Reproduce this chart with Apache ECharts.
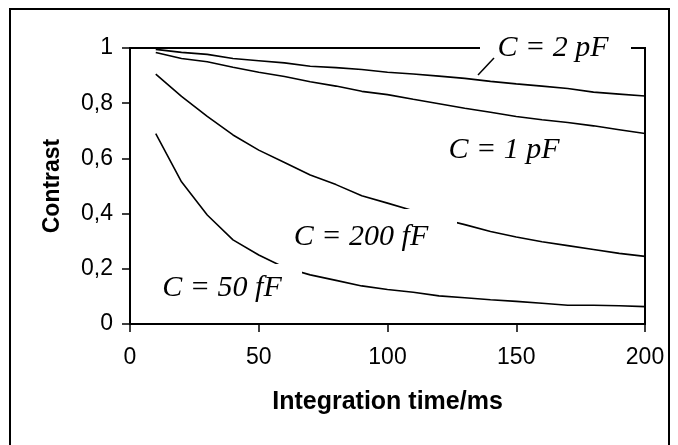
<!DOCTYPE html>
<html>
<head>
<meta charset="utf-8">
<script src="https://cdn.jsdelivr.net/npm/echarts@6/dist/echarts.min.js"></script>
<style>
html,body{margin:0;padding:0;background:#fff;}
#chart{width:678px;height:445px;}
</style>
</head>
<body>
<div id="chart"></div>
<script>
var times = [10,20,30,40,50,60,70,80,90,100,110,120,130,140,150,160,170,180,190,200];
var c2pF  = [0.995,0.984,0.977,0.962,0.954,0.946,0.934,0.929,0.922,0.912,0.906,0.898,0.890,0.879,0.870,0.862,0.853,0.840,0.833,0.826];
var c1pF  = [0.984,0.962,0.950,0.930,0.912,0.897,0.878,0.862,0.843,0.831,0.814,0.798,0.782,0.767,0.752,0.740,0.730,0.718,0.704,0.690];
var c200fF= [0.905,0.825,0.752,0.685,0.630,0.585,0.540,0.505,0.465,0.438,0.410,0.383,0.360,0.335,0.315,0.298,0.284,0.270,0.256,0.245];
var c50fF = [0.690,0.515,0.395,0.305,0.250,0.205,0.178,0.158,0.138,0.125,0.115,0.102,0.095,0.088,0.082,0.075,0.068,0.068,0.066,0.063];
var seriesNames = ['C = 2 pF','C = 1 pF','C = 200 fF','C = 50 fF'];
var xTitle = 'Integration time/ms';
var yTitle = 'Contrast';

function pairs(vals){ return times.map(function(t,i){ return [t, vals[i]]; }); }

var chart = echarts.init(document.getElementById('chart'), null, {renderer:'canvas'});
var lineStyle = {color:'#000', width:1.6};
var mk = function(name, vals){
  return {name:name, type:'line', data:pairs(vals), showSymbol:false, symbol:'none',
          lineStyle:lineStyle, itemStyle:{color:'#000'}, animation:false, z:2};
};
var labelFont = 'italic 30px "Liberation Serif", "Times New Roman", serif';
function box(x,y,w,h){ return {type:'rect', z:100, shape:{x:x,y:y,width:w,height:h}, style:{fill:'#fff'}}; }
function txt(s,x,y){ return {type:'text', z:101, style:{text:s, x:x, y:y, font:labelFont, fill:'#000', align:'center', verticalAlign:'middle'}}; }

chart.setOption({
  animation:false,
  backgroundColor:'#fff',
  grid:{left:130, right:33, top:48, bottom:121, show:true, borderColor:'#000', borderWidth:2, backgroundColor:'transparent'},
  xAxis:{type:'value', min:0, max:200, interval:50,
    name:xTitle, nameLocation:'middle', nameGap:66,
    nameTextStyle:{fontFamily:'"Liberation Sans", Arial, sans-serif', fontWeight:'bold', fontSize:25, color:'#000'},
    axisLine:{show:true, onZero:false, lineStyle:{color:'#000', width:2}},
    axisTick:{show:true, inside:false, length:8, lineStyle:{color:'#000', width:1.5}},
    axisLabel:{margin:22, fontFamily:'"Liberation Sans", Arial, sans-serif', fontSize:23, color:'#000'},
    splitLine:{show:false}
  },
  yAxis:{type:'value', min:0, max:1, interval:0.2,
    name:yTitle, nameLocation:'middle', nameGap:66, nameRotate:90,
    nameTextStyle:{fontFamily:'"Liberation Sans", Arial, sans-serif', fontWeight:'bold', fontSize:23, color:'#000'},
    axisLine:{show:true, onZero:false, lineStyle:{color:'#000', width:2}},
    axisTick:{show:true, inside:false, length:8, lineStyle:{color:'#000', width:1.5}},
    axisLabel:{margin:17, fontFamily:'"Liberation Sans", Arial, sans-serif', fontSize:23, color:'#000',
      formatter:function(v){ return String(Math.round(v*10)/10).replace('.', ','); }},
    splitLine:{show:false}
  },
  series:[mk(seriesNames[0],c2pF), mk(seriesNames[1],c1pF), mk(seriesNames[2],c200fF), mk(seriesNames[3],c50fF)],
  graphic:[
    {type:'rect', z:99, shape:{x:10,y:9,width:659,height:460}, style:{fill:'none', stroke:'#000', lineWidth:2}},
    box(480,30,151,34), txt(seriesNames[0],553,48),
    {type:'line', z:102, shape:{x1:478,y1:75,x2:494,y2:58}, style:{stroke:'#000', lineWidth:1.5}},
    box(440,127,147,45), txt(seriesNames[1],504,150),
    box(287,209,170,45), txt(seriesNames[2],361,237),
    box(155,264,147,42), txt(seriesNames[3],222,288)
  ]
});
</script>
</body>
</html>
